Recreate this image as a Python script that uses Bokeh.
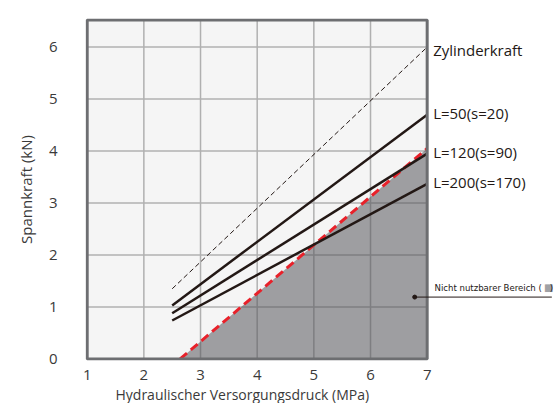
from bokeh.plotting import figure
from bokeh.models import Label, Range1d, FixedTicker, Title
from bokeh.embed import file_html
from bokeh.resources import INLINE

# Data
line_x = [2.5, 7.0]
zylinderkraft = [1.35, 6.0]
l50 = [1.03, 4.7]
l120 = [0.88, 3.95]
l200 = [0.74, 3.37]
limit_x = [2.64, 7.0]
limit_y = [0.0, 4.05]
x_ticks = [1, 2, 3, 4, 5, 6, 7]
y_ticks = [0, 1, 2, 3, 4, 5, 6]
x_min, x_max = 1, 7
y_min, y_max = 0, 6.52
series_labels = ["Zylinderkraft", "L=50(s=20)", "L=120(s=90)", "L=200(s=170)"]
label_y = [5.94, 4.73, 3.98, 3.40]
area_label = "Nicht nutzbarer Bereich ("
area_label_end = ")"
area_point = (6.78, 1.19)
leader_end_x = 9.2

FONT = "Open Sans"
DARK = "#231815"
TICK = "#3a3a3a"

p = figure(frame_width=472, frame_height=342, output_backend="svg", toolbar_location=None,
           x_range=Range1d(0.97, 9.3), y_range=Range1d(-0.03, 6.55),
           min_border_left=85, min_border_right=0, min_border_top=18,
           min_border_bottom=0)
p.background_fill_color = "white"
p.border_fill_color = "white"
p.outline_line_color = None
p.grid.visible = False

for ax in (p.xaxis[0], p.yaxis[0]):
    ax.axis_line_color = None
    ax.major_tick_line_color = None
    ax.minor_tick_line_color = None
    ax.major_label_text_font = FONT
    ax.major_label_text_font_size = "15px"
    ax.major_label_text_color = TICK
p.xaxis.ticker = FixedTicker(ticks=x_ticks)
p.yaxis.ticker = FixedTicker(ticks=y_ticks)
p.xaxis.major_label_standoff = 3
p.yaxis.major_label_standoff = 22
p.yaxis.axis_label = "Spannkraft (kN)"
p.yaxis.axis_label_text_font = FONT
p.yaxis.axis_label_text_font_size = "15px"
p.yaxis.axis_label_text_font_style = "normal"
p.yaxis.axis_label_text_color = TICK
p.yaxis.axis_label_standoff = 10

p.add_layout(Title(text="Hydraulischer Versorgungsdruck (MPa)", align="left", offset=30,
                   text_font=FONT, text_font_size="14px", text_font_style="normal",
                   text_color=TICK, standoff=0), "below")

# Plot area background and grid
p.quad(left=[x_min], right=[x_max], bottom=[y_min], top=[y_max],
       fill_color="#f5f5f5", line_color=None)
vx = [t for t in x_ticks if x_min < t < x_max]
p.segment(x0=vx, y0=[y_min] * len(vx), x1=vx, y1=[y_max] * len(vx),
          line_color="#b0b0b0", line_width=1.5)
hy = [t for t in y_ticks if y_min < t < y_max]
p.segment(x0=[x_min] * len(hy), y0=hy, x1=[x_max] * len(hy), y1=hy,
          line_color="#b0b0b0", line_width=1.5)

# Unusable area
p.varea(x=limit_x, y1=[0, 0], y2=limit_y, fill_color="#55565b", fill_alpha=0.55)
p.line(limit_x, limit_y, line_color="#e8212a", line_width=3, line_dash="9 5")

p.line(line_x, zylinderkraft, line_color=DARK, line_width=1, line_dash="5 3")
for ys in (l50, l120, l200):
    p.line(line_x, ys, line_color=DARK, line_width=2.5)

# Frame outline
p.quad(left=[x_min], right=[x_max], bottom=[y_min], top=[y_max],
       fill_color=None, line_color="#6d6e71", line_width=3)

for txt, yy in zip(series_labels, label_y):
    p.add_layout(Label(x=7.105, y=yy, text=txt, text_font=FONT, text_font_size="15px",
                       text_color=DARK, text_baseline="middle", text_align="left"))

# Annotation of unusable area
p.segment(x0=[area_point[0]], y0=[area_point[1]], x1=[leader_end_x], y1=[area_point[1]],
          line_color=DARK, line_width=1)
p.scatter([area_point[0]], [area_point[1]], size=4, color=DARK)
p.add_layout(Label(x=7.13, y=area_point[1] + 0.07, text=area_label,
                   text_font="DejaVu Sans Condensed", text_font_size="9.5px",
                   text_color=DARK, text_baseline="bottom", text_align="left"))
p.add_layout(Label(x=9.06, y=area_point[1] + 0.07, text="■",
                   text_font="DejaVu Sans", text_font_size="10px",
                   text_color="#a0a1a5", text_baseline="bottom", text_align="left"))
p.add_layout(Label(x=9.165, y=area_point[1] + 0.07, text=area_label_end,
                   text_font="DejaVu Sans Condensed", text_font_size="9.5px",
                   text_color=DARK, text_baseline="bottom", text_align="left"))

open("out.html", "w").write(file_html(p, INLINE))
